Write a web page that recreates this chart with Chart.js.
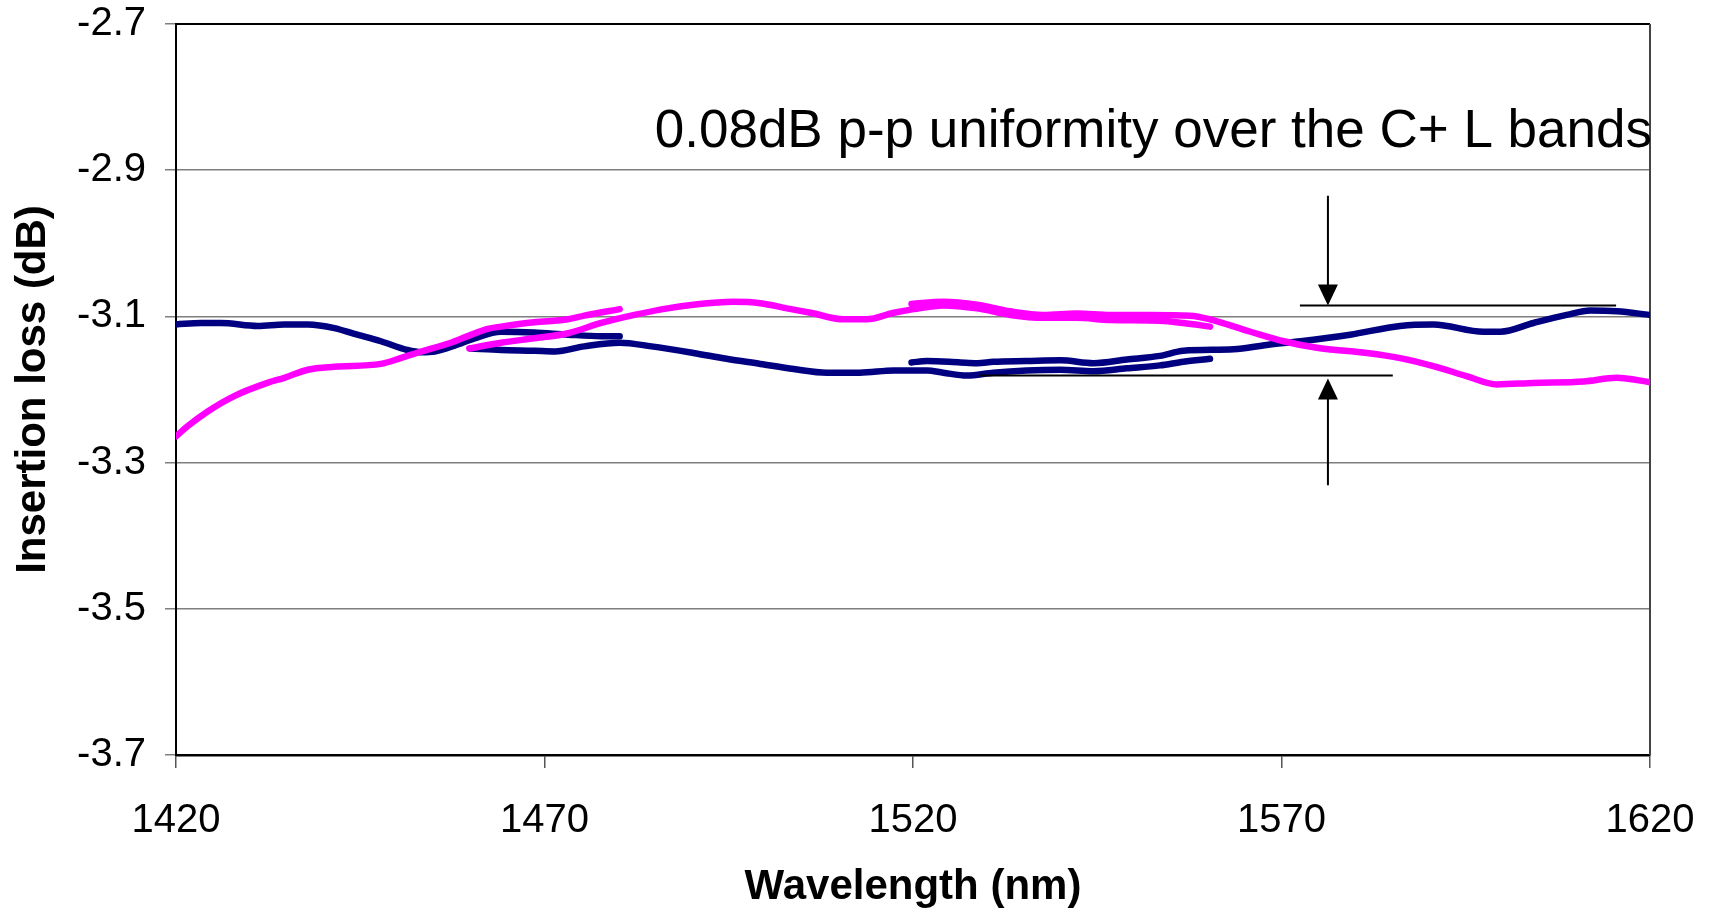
<!DOCTYPE html>
<html>
<head>
<meta charset="utf-8">
<script src="https://cdn.jsdelivr.net/npm/chart.js@4.4.1/dist/chart.umd.min.js"></script>
<style>
  html, body { margin: 0; padding: 0; background: #fff; }
  #contenedor { width: 1713px; height: 913px; position: relative; }
</style>
</head>
<body>
<div id="contenedor"><canvas id="grafica"></canvas></div>
<script>
// Longitudes de onda (nm) y pérdida de inserción (dB)
var magentaAWl  = [1420, 1421.6, 1424.3, 1427.9, 1432.4, 1434.7, 1437.9, 1441.5, 1447.8, 1450.5, 1453.3, 1457.3, 1459.6, 1462.3, 1464.1, 1468.6, 1473.2, 1475.4, 1480.2];
var magentaAVal = [-3.264, -3.250, -3.230, -3.209, -3.191, -3.184, -3.173, -3.169, -3.165, -3.157, -3.148, -3.136, -3.127, -3.117, -3.114, -3.108, -3.104, -3.099, -3.090];

var magentaBWl  = [1459.8, 1464.1, 1468.6, 1473.2, 1477.7, 1482.2, 1486.7, 1490.2, 1495.6, 1499.3, 1502.9, 1506.1, 1510.6, 1513.7, 1517.4, 1520.1, 1524.1, 1528.7, 1533.2, 1537.7, 1542.2, 1546.8, 1553.5, 1556.7, 1560.3];
var magentaBVal = [-3.144, -3.136, -3.130, -3.123, -3.109, -3.098, -3.089, -3.084, -3.080, -3.082, -3.089, -3.095, -3.104, -3.104, -3.095, -3.090, -3.085, -3.089, -3.098, -3.102, -3.102, -3.105, -3.106, -3.109, -3.114];

var magentaCWl  = [1519.8, 1524.1, 1528.7, 1533.2, 1537.7, 1542.2, 1546.8, 1552.2, 1557.6, 1560.3, 1565.8, 1570.3, 1574.8, 1581.6, 1586.1, 1590.6, 1595.2, 1599.2, 1604.2, 1611.0, 1615.5, 1620];
var magentaCVal = [-3.083, -3.080, -3.084, -3.093, -3.098, -3.096, -3.098, -3.098, -3.099, -3.104, -3.121, -3.134, -3.143, -3.150, -3.157, -3.168, -3.182, -3.193, -3.191, -3.189, -3.184, -3.190];

var navyAWl  = [1420, 1423.4, 1426.1, 1431.1, 1434.7, 1437.9, 1441.5, 1444.2, 1447.8, 1451.4, 1453.3, 1455.1, 1457.8, 1460.5, 1464.1, 1468.6, 1473.2, 1477.7, 1480.2];
var navyAVal = [-3.111, -3.109, -3.109, -3.113, -3.111, -3.111, -3.116, -3.124, -3.134, -3.146, -3.149, -3.148, -3.140, -3.130, -3.121, -3.122, -3.125, -3.127, -3.127];

var navyBWl  = [1460.0, 1464.1, 1468.6, 1471.4, 1475.4, 1480.2, 1484.5, 1490.2, 1494.7, 1499.3, 1503.8, 1508.3, 1512.8, 1517.4, 1521.9, 1524.1, 1527.3, 1530.9, 1535.4, 1540.0, 1544.5, 1549.0, 1553.5, 1556.7, 1560.3];
var navyBVal = [-3.144, -3.146, -3.147, -3.148, -3.141, -3.136, -3.141, -3.150, -3.158, -3.165, -3.172, -3.177, -3.177, -3.174, -3.174, -3.177, -3.181, -3.177, -3.174, -3.173, -3.175, -3.171, -3.167, -3.162, -3.158];

var navyCWl  = [1519.8, 1521.9, 1526.4, 1528.7, 1530.9, 1535.4, 1540.0, 1544.5, 1549.0, 1553.5, 1556.7, 1563.5, 1568.0, 1572.6, 1579.3, 1586.1, 1590.6, 1597.4, 1599.7, 1604.2, 1608.7, 1611.9, 1615.5, 1620];
var navyCVal = [-3.163, -3.161, -3.163, -3.164, -3.162, -3.161, -3.160, -3.164, -3.159, -3.154, -3.147, -3.145, -3.139, -3.134, -3.125, -3.113, -3.111, -3.121, -3.121, -3.109, -3.098, -3.092, -3.093, -3.098];

// Marcas de los ejes
var xTicks = [1420, 1470, 1520, 1570, 1620];
var yTicks = [-2.7, -2.9, -3.1, -3.3, -3.5, -3.7];

// Anotación (en unidades de datos)
var notaTexto = '0.08dB p-p uniformity over the C+ L bands';
var notaX = 1620, notaY = -2.868;
var flechaX = 1576.3;
var lineaSup = [1572.5, 1615.4, -3.085];
var lineaInf = [1529.1, 1585.1, -3.181];
var flechaSup = [-2.935, -3.085];
var flechaInf = [-3.331, -3.185];

var fuente = '"Liberation Sans", Arial, sans-serif';
var MAGENTA = '#FF00FF';
var NAVY = '#000080';

function puntos(wl, val) {
    return wl.map(function (w, i) { return { x: w, y: val[i] }; });
}

function serie(wl, val, color) {
    return {
        data: puntos(wl, val),
        borderColor: color,
        borderWidth: 6.5,
        pointRadius: 0,
        fill: false,
        showLine: true,
        cubicInterpolationMode: 'monotone',
        borderCapStyle: 'round',
        borderJoinStyle: 'round'
    };
}

// quita el relleno extra que Chart.js reserva para las etiquetas
function sinRelleno(s) {
    s.paddingTop = 0;
    s.paddingBottom = 0;
    s.paddingLeft = 0;
    s.paddingRight = 0;
}

// Marco superior / derecho del área del gráfico
var marco = {
    id: 'marco',
    beforeDatasetsDraw: function (chart) {
        var ctx = chart.ctx, a = chart.chartArea;
        ctx.save();
        ctx.strokeStyle = '#000';
        ctx.lineWidth = 2;
        ctx.beginPath();
        ctx.moveTo(a.left, a.top);
        ctx.lineTo(a.right, a.top);
        ctx.stroke();
        ctx.strokeStyle = '#444';
        ctx.beginPath();
        ctx.moveTo(a.right, a.top);
        ctx.lineTo(a.right, a.bottom);
        ctx.stroke();
        ctx.restore();
    }
};

function punta(ctx, px, py, dir) {
    // dir = 1 apunta hacia abajo, -1 hacia arriba
    ctx.beginPath();
    ctx.moveTo(px, py);
    ctx.lineTo(px - 10, py - dir * 21);
    ctx.lineTo(px + 10, py - dir * 21);
    ctx.closePath();
    ctx.fill();
}

var anotacion = {
    id: 'anotacion',
    afterDatasetsDraw: function (chart) {
        var ctx = chart.ctx;
        var x = chart.scales.x, y = chart.scales.y;
        ctx.save();
        ctx.fillStyle = '#000';
        ctx.strokeStyle = '#000';
        ctx.font = '53px ' + fuente;
        ctx.textAlign = 'right';
        ctx.textBaseline = 'alphabetic';
        ctx.fillText(notaTexto, x.getPixelForValue(notaX) + 2, y.getPixelForValue(notaY));

        ctx.lineWidth = 2;
        // líneas horizontales de referencia
        ctx.beginPath();
        ctx.moveTo(x.getPixelForValue(lineaSup[0]), y.getPixelForValue(lineaSup[2]));
        ctx.lineTo(x.getPixelForValue(lineaSup[1]), y.getPixelForValue(lineaSup[2]));
        ctx.moveTo(x.getPixelForValue(lineaInf[0]), y.getPixelForValue(lineaInf[2]));
        ctx.lineTo(x.getPixelForValue(lineaInf[1]), y.getPixelForValue(lineaInf[2]));
        ctx.stroke();

        var fx = x.getPixelForValue(flechaX);
        var s0 = y.getPixelForValue(flechaSup[0]), s1 = y.getPixelForValue(flechaSup[1]);
        var i0 = y.getPixelForValue(flechaInf[0]), i1 = y.getPixelForValue(flechaInf[1]);
        ctx.beginPath();
        ctx.moveTo(fx, s0);
        ctx.lineTo(fx, s1 - 18);
        ctx.moveTo(fx, i0);
        ctx.lineTo(fx, i1 + 18);
        ctx.stroke();
        punta(ctx, fx, s1, 1);
        punta(ctx, fx, i1, -1);
        ctx.restore();
    }
};

var ctx = document.getElementById('grafica').getContext('2d');

var miGrafico = new Chart(ctx, {
    type: 'scatter',
    data: {
        datasets: [
            serie(magentaAWl, magentaAVal, MAGENTA),
            serie(magentaBWl, magentaBVal, MAGENTA),
            serie(magentaCWl, magentaCVal, MAGENTA),
            serie(navyAWl, navyAVal, NAVY),
            serie(navyBWl, navyBVal, NAVY),
            serie(navyCWl, navyCVal, NAVY)
        ]
    },
    options: {
        responsive: true,
        maintainAspectRatio: false,
        animation: false,
        layout: { padding: { top: 24, right: 63, left: 0, bottom: 0 } },
        plugins: {
            legend: { display: false },
            tooltip: { enabled: false }
        },
        scales: {
            x: {
                type: 'linear',
                min: 1420,
                max: 1620,
                afterBuildTicks: function (s) { s.ticks = xTicks.map(function (v) { return { value: v }; }); },
                afterFit: function (s) { s.height = 158; sinRelleno(s); },
                grid: { drawOnChartArea: false, drawTicks: true, tickLength: 13, color: '#555', lineWidth: 1.5 },
                border: { display: true, color: '#000', width: 2.5 },
                ticks: {
                    color: '#000',
                    padding: 29,
                    maxRotation: 0,
                    font: { family: fuente, size: 40 },
                    callback: function (v) { return String(v); }
                },
                title: {
                    display: true,
                    text: 'Wavelength (nm)',
                    color: '#000',
                    padding: { top: 0, bottom: 0 },
                    font: { family: fuente, size: 42, weight: 'bold' }
                }
            },
            y: {
                type: 'linear',
                min: -3.7,
                max: -2.7,
                afterBuildTicks: function (s) { s.ticks = yTicks.map(function (v) { return { value: v }; }); },
                afterFit: function (s) { s.width = 176; sinRelleno(s); },
                grid: { drawTicks: true, tickLength: 11, color: '#7f7f7f', lineWidth: 1.5 },
                border: { display: true, color: '#000', width: 2 },
                ticks: {
                    color: '#000',
                    padding: 19,
                    font: { family: fuente, size: 40 },
                    callback: function (v) { return Number(v).toFixed(1); }
                },
                title: {
                    display: true,
                    text: 'Insertion loss (dB)',
                    color: '#000',
                    padding: { top: 8, bottom: 0 },
                    font: { family: fuente, size: 42, weight: 'bold' }
                }
            }
        }
    },
    plugins: [marco, anotacion]
});
</script>
</body>
</html>
